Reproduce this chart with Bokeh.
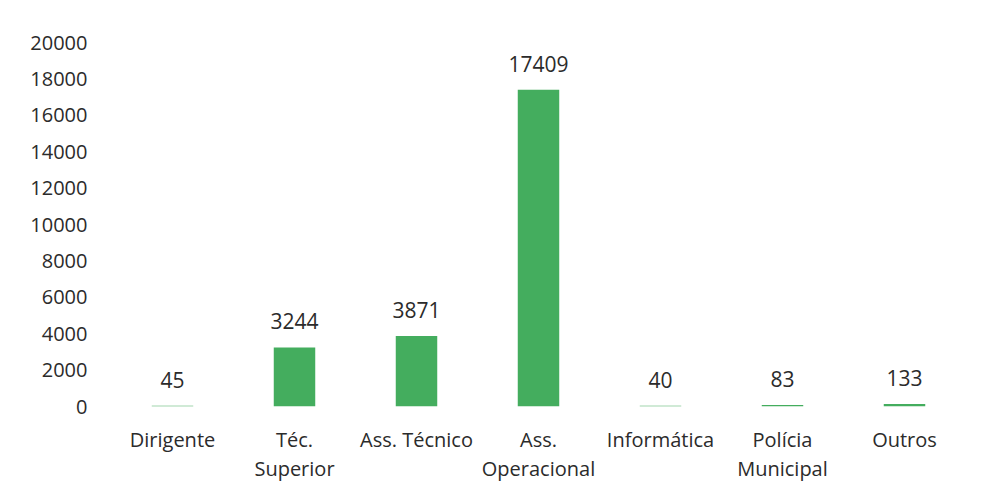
from bokeh.plotting import figure
from bokeh.models import ColumnDataSource, FactorRange
from bokeh.core.properties import value
from bokeh.embed import file_html
from bokeh.resources import INLINE

categories = ["Dirigente", "Téc.\nSuperior", "Ass. Técnico", "Ass.\nOperacional",
              "Informática", "Polícia\nMunicipal", "Outros"]
counts = [45, 3244, 3871, 17409, 40, 83, 133]
y_ticks = [0, 2000, 4000, 6000, 8000, 10000, 12000, 14000, 16000, 18000, 20000]

FONT = "Open Sans"
TXT = "#2b2b2b"

src = ColumnDataSource(dict(cat=categories, val=counts, lab=[str(v) for v in counts]))

p = figure(x_range=FactorRange(*categories), y_range=(0, 20000),
           width=969, height=485, output_backend="svg", toolbar_location=None,
           min_border_left=111, min_border_right=4, min_border_top=42, min_border_bottom=73)

p.vbar(x="cat", top="val", width=0.34, source=src, fill_color="#44AD5E", line_color=None)
p.text(x="cat", y="val", text="lab", source=src, text_align="center",
       text_baseline="alphabetic", y_offset=-26, text_font=value(FONT),
       text_font_size="21px", text_color=TXT)

p.xgrid.grid_line_color = None
p.ygrid.grid_line_color = None
p.outline_line_color = None

p.yaxis.ticker = y_ticks
p.yaxis.axis_line_color = None
p.yaxis.major_tick_line_color = None
p.yaxis.minor_tick_line_color = None
p.yaxis.major_label_standoff = 18
p.yaxis.major_label_text_font = FONT
p.yaxis.major_label_text_font_size = "20px"
p.yaxis.major_label_text_color = TXT

p.xaxis.axis_line_color = None
p.xaxis.major_tick_line_color = None
p.xaxis.major_label_standoff = 13
p.xaxis.major_label_text_font = FONT
p.xaxis.major_label_text_font_size = "20px"
p.xaxis.major_label_text_color = TXT
p.xaxis.major_label_text_line_height = 1.1

p.background_fill_color = "white"
p.border_fill_color = "white"

open("out.html", "w").write(file_html(p, INLINE))
